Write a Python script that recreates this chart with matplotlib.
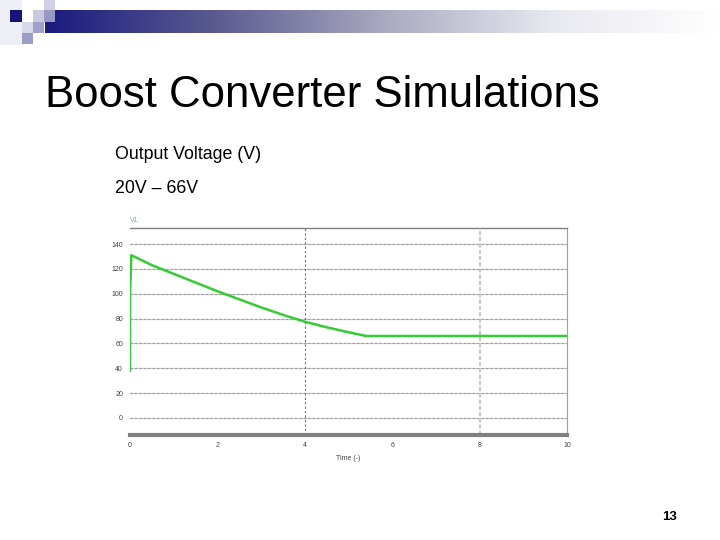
import numpy as np
import matplotlib
matplotlib.use("Agg")
import matplotlib.pyplot as plt
from matplotlib.patches import Rectangle

plt.rcParams['font.family'] = ['Liberation Sans', 'DejaVu Sans']

# simulated output voltage
time_s = [0.0, 0.0, 0.03, 0.5, 1.0, 1.5, 2.0, 2.5, 3.0, 3.5, 4.0, 4.5, 5.0, 5.4, 6.0, 8.0, 10.0]
volt_v = [38, 100, 131, 123, 116, 109, 102, 95.5, 89, 83, 77.5, 73, 69, 66, 66, 66, 66]
y_ticks = [0, 20, 40, 60, 80, 100, 120, 140]
x_ticks = [0, 2, 4, 6, 8, 10]

W, H = 720, 540
fig = plt.figure(figsize=(7.2, 5.4), dpi=100)
fig.patch.set_facecolor('white')

def px(x, y, w, h):
    # pixel box (top-left origin) -> figure fraction
    return (x / W, 1 - (y + h) / H, w / W, h / H)

# title banner with gradient
grad = np.linspace(0, 1, 256).reshape(1, -1)
bax = fig.add_axes(px(45, 10, 675, 23))
cmap = matplotlib.colors.LinearSegmentedColormap.from_list(
    'ban', ['#1a1a80', '#5a5a90', '#a8a8c0', '#e8e8f0', '#ffffff'])
bax.imshow(grad, aspect='auto', cmap=cmap)
bax.axis('off')

# decorative squares in the corner
squares = [
    (0, 0, 22, 45, '#eeeef6'),
    (10, 10, 12, 12, '#14147a'),
    (22, 22, 11, 11, '#d8d8ec'),
    (22, 33, 11, 11, '#9c9cc8'),
    (33, 10, 11, 12, '#c8c8e0'),
    (33, 22, 11, 11, '#a0a0cc'),
    (44, 0, 11, 10, '#d0d0e6'),
    (44, 10, 11, 12, '#9898c4'),
]
for (x, y, w, h, c) in squares:
    l, b, ww, hh = px(x, y, w, h)
    fig.patches.append(Rectangle((l, b), ww, hh, transform=fig.transFigure,
                                 facecolor=c, edgecolor='none', zorder=3))

fig.text(45 / W, 1 - 107 / H, 'Boost Converter Simulations', fontsize=31.5,
         color='black', ha='left', va='baseline')
fig.text(115 / W, 1 - 159 / H, 'Output Voltage (V)', fontsize=12.8,
         ha='left', va='baseline')
fig.text(115 / W, 1 - 193 / H, '20V – 66V', fontsize=12.8,
         ha='left', va='baseline')
fig.text(670 / W, 1 - 520 / H, '13', fontsize=9.5, fontweight='bold',
         ha='center', va='baseline')

# simulation plot
ax = fig.add_axes(px(130, 228, 437, 207))
ax.set_xlim(0, 10)
ax.set_ylim(-13.7, 152.9)
for yv in y_ticks:
    ax.axhline(yv, color='#c8c8c8', lw=0.9, zorder=1)
    ax.axhline(yv, color='#707070', lw=0.8, ls=(0, (2, 2)), zorder=1, alpha=0.5)
ax.axvline(4, color='#707070', lw=0.8, ls=(0, (2, 2)), zorder=1)
ax.axvline(8, color='#c8c8c8', lw=1.5, ls=(0, (2, 1)), zorder=1)
ax.plot(time_s, volt_v, color='#33cc33', lw=1.8, zorder=3, solid_joinstyle='round')

ax.spines['left'].set_visible(False)
ax.spines['bottom'].set_color('#808080')
ax.spines['bottom'].set_linewidth(3)
ax.spines['top'].set_color('#808080')
ax.spines['top'].set_linewidth(1)
ax.spines['right'].set_color('#a0a0a0')
ax.spines['right'].set_linewidth(0.8)
ax.set_xticks(x_ticks)
ax.set_yticks(y_ticks)
ax.tick_params(length=0, labelsize=5, colors='#404040', pad=5)
ax.set_xlabel('Time (-)', fontsize=5, color='#404040', labelpad=4)
ax.text(0.0, 156, 'V1', fontsize=5, color='#66cc66', ha='left', va='bottom')

fig.savefig('out.png', dpi=100, facecolor='white')
